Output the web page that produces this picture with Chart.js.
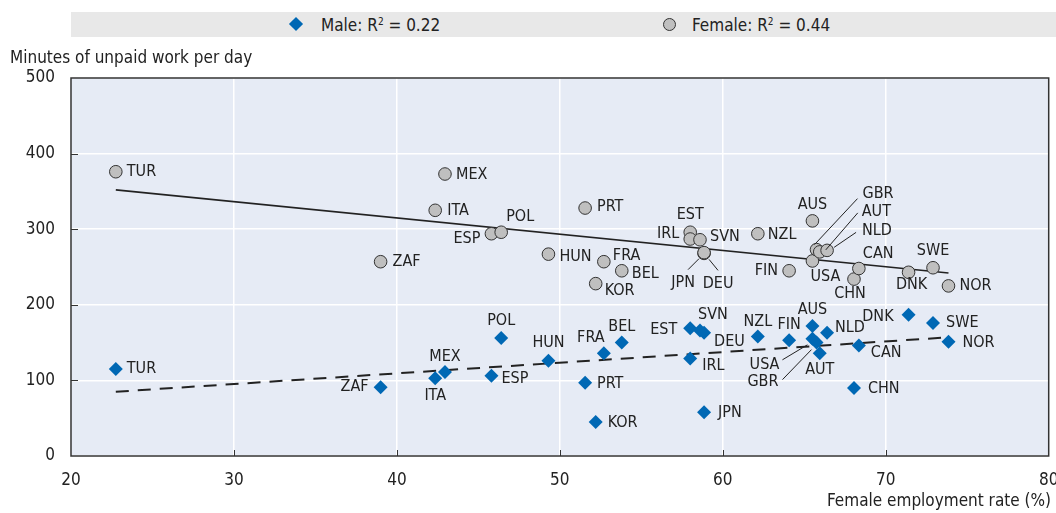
<!DOCTYPE html>
<html>
<head>
<meta charset="utf-8">
<script src="https://cdn.jsdelivr.net/npm/chart.js@4.4.1/dist/chart.umd.min.js"></script>
<style>
    html, body { margin: 0; padding: 0; background: #fff; }
    body { width: 1056px; height: 513px; position: relative; overflow: hidden;
           font-family: "Liberation Sans Narrow", "DejaVu Sans Condensed", sans-serif; color: #222; }
    #wrap { position: absolute; left: 0; top: 0; width: 1056px; height: 513px; }
    .legend { position: absolute; left: 71px; top: 12px; width: 985px; height: 25px; background: #e8e8e8; }
    .legend .item { position: absolute; top: 0; height: 25px; line-height: 26px; font-size: 17px; white-space: nowrap; }
    .legend .diamond { position: absolute; width: 10px; height: 10px; background: #0068b4; transform: rotate(45deg); top: 7px; }
    .legend .circle { position: absolute; width: 11px; height: 11px; border-radius: 50%; background: #bfbfbf; border: 1px solid #333; top: 6px; }
    .legend sup { font-size: 10px; vertical-align: 6px; line-height: 0; }
    .ytitle { position: absolute; left: 10px; top: 47px; font-size: 17px; white-space: nowrap; }
    .xtitle { position: absolute; right: 5px; top: 490px; font-size: 17px; white-space: nowrap; }
</style>
</head>
<body>
<div id="wrap"><canvas id="chart" width="1056" height="513"></canvas></div>
<div class="legend">
    <div class="item" style="left:219px"><span class="diamond" style="left:1px"></span><span style="margin-left:31px">Male: R<sup>2</sup> = 0.22</span></div>
    <div class="item" style="left:592px"><span class="circle" style="left:0px"></span><span style="margin-left:29px">Female: R<sup>2</sup> = 0.44</span></div>
</div>
<div class="ytitle">Minutes of unpaid work per day</div>
<div class="xtitle">Female employment rate (%)</div>

<script>
// Countries and their female employment rate (x axis, %)
const countries = ['TUR', 'ZAF', 'ITA', 'MEX', 'ESP', 'POL', 'HUN', 'PRT', 'KOR', 'FRA', 'BEL', 'EST', 'IRL', 'SVN',
    'DEU', 'JPN', 'NZL', 'FIN', 'AUS', 'USA', 'GBR', 'AUT', 'NLD', 'CHN', 'CAN', 'DNK', 'SWE', 'NOR'];
const employmentRate = [22.75, 39.0, 42.35, 42.95, 45.8, 46.4, 49.3, 51.55, 52.2, 52.7, 53.8, 58.0, 58.0, 58.6,
    58.85, 58.85, 62.15, 64.07, 65.5, 65.5, 65.75, 65.95, 66.4, 68.05, 68.35, 71.4, 72.9, 73.85];

// Minutes of unpaid work per day
const femaleMinutes = [376, 257, 325, 373, 294, 296, 267, 328, 228, 257, 245, 296, 287, 286,
    268, 269, 294, 245, 311, 258, 273, 270, 272, 234, 248, 243, 249, 225];
const maleMinutes = [115, 91, 103, 111, 106, 156, 126, 97, 45, 136, 150, 169, 129, 166,
    163, 58, 158, 153, 172, 155, 150, 136, 163, 90, 146, 187, 176, 151];

// Fitted trend lines (end points)
const trendX = [22.75, 73.85];
const femaleTrend = [352, 242];
const maleTrend = [85, 157];

const xTicks = [20, 30, 40, 50, 60, 70, 80];
const yTicks = [0, 100, 200, 300, 400, 500];

// label placement: [dx, dy, align, leader line offsets]
const femaleLabelPos = {
    TUR: [11, 0, 'left'], ZAF: [12, 0, 'left'], ITA: [12, 1, 'left'], MEX: [11, 1, 'left'],
    ESP: [-11, 5, 'right'], POL: [5, -15, 'left'], HUN: [11, 3, 'left'], PRT: [12, -1, 'left'],
    KOR: [9, 7, 'left'], FRA: [9, -6, 'left'], BEL: [10, 3, 'left'], EST: [0, -17, 'center'],
    IRL: [-11, -5, 'right'], SVN: [10, -3, 'left'],
    DEU: [14, 30, 'center', [5, 6, 14, 17]], JPN: [-21, 30, 'center', [-5, 6, -16, 17]],
    NZL: [10, 1, 'left'], FIN: [-11, 0, 'right'], AUS: [0, -16, 'center'], USA: [-2, 16, 'left'],
    GBR: [46, -56, 'left', [-2, -5, 41, -51]], AUT: [42, -40, 'left', [6, -2, 38, -39]],
    NLD: [35, -20, 'left', [7, -3, 29, -18]],
    CHN: [-4, 15, 'center'], CAN: [4, -15, 'left'], DNK: [3, 13, 'center'], SWE: [0, -17, 'center'],
    NOR: [11, 0, 'left']
};
const maleLabelPos = {
    TUR: [11, 0, 'left'], ZAF: [-12, 0, 'right'], ITA: [0, 18, 'center'], MEX: [0, -15, 'center'],
    ESP: [10, 3, 'left'], POL: [0, -17, 'center'], HUN: [0, -18, 'center'], PRT: [12, 1, 'left'],
    KOR: [12, 1, 'left'], FRA: [-13, -15, 'center'], BEL: [0, -16, 'center'], EST: [-13, 2, 'right'],
    IRL: [12, 7, 'left'], SVN: [13, -16, 'center'], DEU: [10, 9, 'left'], JPN: [14, 1, 'left'],
    NZL: [0, -15, 'center'], FIN: [0, -15, 'center'], AUS: [0, -16, 'center'],
    USA: [-33, 26, 'right', [-5, 6, -30, 21]], GBR: [-38, 39, 'right', [-5, 7, -34, 37]],
    AUT: [0, 17, 'center'], NLD: [8, -5, 'left'], CHN: [14, 1, 'left'], CAN: [12, 7, 'left'],
    DNK: [-15, 2, 'right'], SWE: [13, 0, 'left'], NOR: [14, 1, 'left']
};

const FONT = '"Liberation Sans Narrow", "DejaVu Sans Condensed", sans-serif';
const blue = '#0068b4';

const toPoints = (ys) => countries.map((c, i) => ({ x: employmentRate[i], y: ys[i], code: c }));
const toTrend = (ys) => trendX.map((x, i) => ({ x: x, y: ys[i] }));

// plot background, frame and inner tick marks
const frame = {
    id: 'frame',
    beforeDraw(chart) {
        const a = chart.chartArea;
        const ctx = chart.ctx;
        ctx.save();
        ctx.fillStyle = '#e6ebf5';
        ctx.fillRect(a.left, a.top, a.right - a.left, a.bottom - a.top);
        ctx.restore();
    },
    afterDraw(chart) {
        const a = chart.chartArea;
        const ctx = chart.ctx;
        const xs = chart.scales.x, ys = chart.scales.y;
        ctx.save();
        ctx.strokeStyle = '#333';
        ctx.lineWidth = 1.5;
        ctx.strokeRect(a.left, a.top, a.right - a.left, a.bottom - a.top);
        ctx.lineWidth = 1;
        ctx.beginPath();
        xTicks.slice(1, -1).forEach(v => {
            const px = Math.round(xs.getPixelForValue(v)) + 0.5;
            ctx.moveTo(px, a.bottom);
            ctx.lineTo(px, a.bottom - 6);
        });
        yTicks.slice(1, -1).forEach(v => {
            const py = Math.round(ys.getPixelForValue(v)) + 0.5;
            ctx.moveTo(a.left, py);
            ctx.lineTo(a.left + 7, py);
        });
        ctx.stroke();
        ctx.restore();
    }
};

// country codes next to the markers
const countryLabels = {
    id: 'countryLabels',
    afterDatasetsDraw(chart) {
        const ctx = chart.ctx;
        ctx.save();
        ctx.font = '16px ' + FONT;
        ctx.fillStyle = '#222';
        ctx.strokeStyle = '#222';
        ctx.lineWidth = 1;
        ctx.textBaseline = 'middle';
        [[0, femaleLabelPos], [1, maleLabelPos]].forEach(([idx, pos]) => {
            const meta = chart.getDatasetMeta(idx);
            meta.data.forEach((pt, i) => {
                const p = pos[countries[i]];
                if (!p) return;
                if (p[3]) {
                    ctx.beginPath();
                    ctx.moveTo(pt.x + p[3][0], pt.y + p[3][1]);
                    ctx.lineTo(pt.x + p[3][2], pt.y + p[3][3]);
                    ctx.stroke();
                }
                ctx.textAlign = p[2];
                ctx.fillText(countries[i], pt.x + p[0], pt.y + p[1]);
            });
        });
        ctx.restore();
    }
};

new Chart(document.getElementById('chart'), {
    type: 'scatter',
    data: {
        datasets: [
            {
                label: 'Female', data: toPoints(femaleMinutes), order: 1,
                pointStyle: 'circle', pointRadius: 6.3, backgroundColor: '#bfbfbf',
                borderColor: '#333', borderWidth: 1
            },
            {
                label: 'Male', data: toPoints(maleMinutes), order: 1,
                pointStyle: 'rectRot', pointRadius: 7, backgroundColor: blue,
                borderColor: blue, borderWidth: 0
            },
            {
                type: 'line', label: 'Female trend', data: toTrend(femaleTrend), order: 2,
                borderColor: '#222', borderWidth: 1.6, pointRadius: 0, fill: false
            },
            {
                type: 'line', label: 'Male trend', data: toTrend(maleTrend), order: 2,
                borderColor: '#222', borderWidth: 2, borderDash: [13, 9], pointRadius: 0, fill: false
            }
        ]
    },
    options: {
        responsive: false,
        animation: false,
        events: [],
        layout: { padding: { left: 0, right: 2, top: 78, bottom: 0 } },
        plugins: { legend: { display: false }, tooltip: { enabled: false } },
        scales: {
            x: {
                type: 'linear', min: 20, max: 80,
                afterFit: (s) => { s.height = 57; s.paddingLeft = 0; s.paddingRight = 0; },
                afterBuildTicks: (s) => { s.ticks = xTicks.map(v => ({ value: v })); },
                grid: { color: '#ffffff', lineWidth: 1.5, drawTicks: false },
                border: { display: false },
                ticks: { padding: 14, color: '#222', font: { family: FONT, size: 17 } }
            },
            y: {
                type: 'linear', min: 0, max: 500,
                afterFit: (s) => { s.width = 71; s.paddingTop = 0; s.paddingBottom = 0; },
                afterBuildTicks: (s) => { s.ticks = yTicks.map(v => ({ value: v })); },
                grid: { color: '#ffffff', lineWidth: 1.5, drawTicks: false },
                border: { display: false },
                ticks: { padding: 16, color: '#222', font: { family: FONT, size: 17 } }
            }
        }
    },
    plugins: [frame, countryLabels]
});
</script>
</body>
</html>
